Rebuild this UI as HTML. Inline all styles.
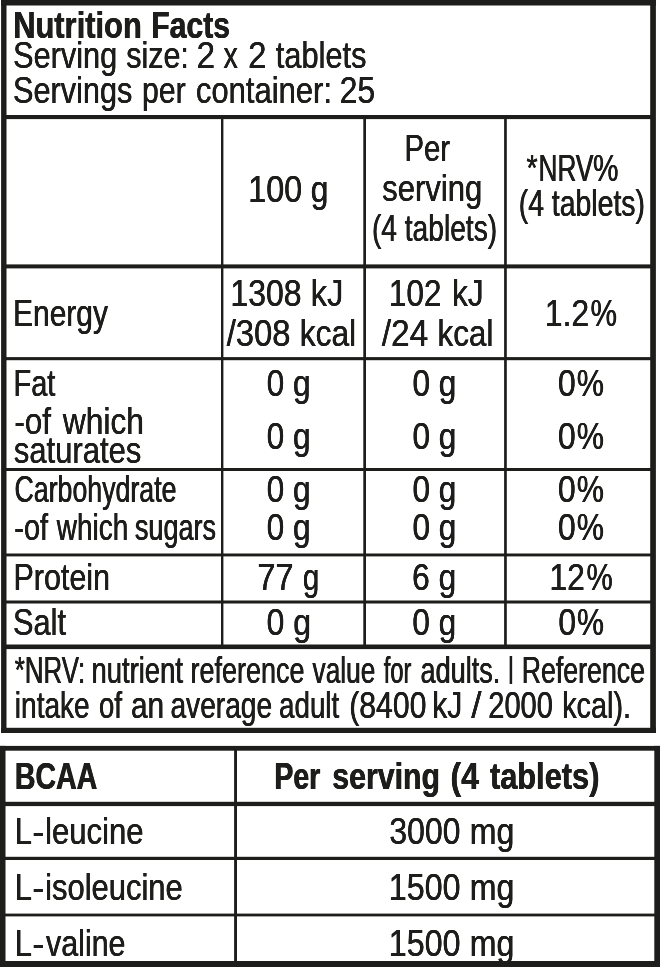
<!DOCTYPE html>
<html lang="en"><head><meta charset="utf-8"><title>Nutrition Facts</title>
<style>
html,body{margin:0;padding:0;background:#fff}
#label{position:relative;width:660px;height:967px;overflow:hidden;background:#fff;font-family:"Liberation Sans",sans-serif;font-size:37px;line-height:37px;color:#1d1d1b}
#label svg{position:absolute;left:0;top:0;display:block}
#label span{position:absolute;left:0;top:0;white-space:pre;transform-origin:0 0;text-shadow:0.3px 0 0 #1d1d1b,-0.3px 0 0 #1d1d1b}
#label span.b{font-weight:700;text-shadow:0.3px 0 0 #1d1d1b,-0.3px 0 0 #1d1d1b}
</style></head><body>
<div id="label">
<svg width="660" height="967" viewBox="0 0 660 967" fill="#1d1d1b">
<rect x="1.10" y="0.00" width="5.40" height="733.00"/>
<rect x="650.20" y="0.00" width="5.70" height="733.00"/>
<rect x="1.10" y="0.00" width="654.80" height="5.50"/>
<rect x="1.10" y="727.80" width="654.80" height="5.20"/>
<rect x="6.00" y="115.00" width="645.00" height="4.10"/>
<rect x="6.00" y="264.40" width="645.00" height="4.00"/>
<rect x="6.00" y="357.10" width="645.00" height="3.10"/>
<rect x="6.00" y="468.00" width="645.00" height="3.00"/>
<rect x="6.00" y="553.50" width="645.00" height="2.90"/>
<rect x="6.00" y="600.50" width="645.00" height="3.00"/>
<rect x="6.00" y="644.50" width="645.00" height="4.60"/>
<rect x="221.00" y="118.00" width="2.40" height="528.00"/>
<rect x="363.30" y="118.00" width="2.70" height="528.00"/>
<rect x="504.10" y="118.00" width="2.70" height="528.00"/>
<rect x="0.00" y="745.90" width="5.50" height="221.10"/>
<rect x="654.30" y="745.90" width="5.70" height="221.10"/>
<rect x="0.00" y="745.90" width="660.00" height="4.80"/>
<rect x="0.00" y="961.00" width="660.00" height="6.00"/>
<rect x="5.00" y="801.80" width="650.00" height="4.30"/>
<rect x="5.00" y="856.80" width="650.00" height="3.20"/>
<rect x="5.00" y="913.60" width="650.00" height="2.80"/>
<rect x="234.10" y="750.00" width="2.90" height="212.00"/>
</svg>
<span class="b" style="transform:matrix(0.8352,0,0,1,13.14,7.00);text-shadow:0.30px 0 0 #1d1d1b,-0.30px 0 0 #1d1d1b">Nutrition</span>
<span class="b" style="transform:matrix(0.8147,0,0,1,151.22,7.00);text-shadow:0.34px 0 0 #1d1d1b,-0.34px 0 0 #1d1d1b">Facts</span>
<span style="transform:matrix(0.8297,0,0,1,13.12,37.00);text-shadow:0.24px 0 0 #1d1d1b,-0.24px 0 0 #1d1d1b">Serving</span>
<span style="transform:matrix(0.8230,0,0,1,126.21,37.00);text-shadow:0.25px 0 0 #1d1d1b,-0.25px 0 0 #1d1d1b">size:</span>
<span style="transform:matrix(0.8977,0,0,1,196.59,37.00);text-shadow:0.15px 0 0 #1d1d1b,-0.15px 0 0 #1d1d1b">2</span>
<span style="transform:matrix(0.7723,0,0,1,223.55,37.00);text-shadow:0.32px 0 0 #1d1d1b,-0.32px 0 0 #1d1d1b">x</span>
<span style="transform:matrix(0.8888,0,0,1,248.13,37.00);text-shadow:0.17px 0 0 #1d1d1b,-0.17px 0 0 #1d1d1b">2</span>
<span style="transform:matrix(0.8316,0,0,1,275.81,37.00);text-shadow:0.24px 0 0 #1d1d1b,-0.24px 0 0 #1d1d1b">tablets</span>
<span style="transform:matrix(0.8285,0,0,1,13.07,72.00);text-shadow:0.25px 0 0 #1d1d1b,-0.25px 0 0 #1d1d1b">Servings</span>
<span style="transform:matrix(0.8154,0,0,1,142.08,72.00);text-shadow:0.26px 0 0 #1d1d1b,-0.26px 0 0 #1d1d1b">per</span>
<span style="transform:matrix(0.8376,0,0,1,195.89,72.00);text-shadow:0.23px 0 0 #1d1d1b,-0.23px 0 0 #1d1d1b">container:</span>
<span style="transform:matrix(0.8635,0,0,1,339.68,72.00);text-shadow:0.20px 0 0 #1d1d1b,-0.20px 0 0 #1d1d1b">25</span>
<span style="transform:matrix(0.8730,0,0,1,248.27,171.00);text-shadow:0.19px 0 0 #1d1d1b,-0.19px 0 0 #1d1d1b">100</span>
<span style="transform:matrix(0.8561,0,0,1,310.77,171.00);text-shadow:0.21px 0 0 #1d1d1b,-0.21px 0 0 #1d1d1b">g</span>
<span style="transform:matrix(0.7922,0,0,1,404.42,130.00);text-shadow:0.29px 0 0 #1d1d1b,-0.29px 0 0 #1d1d1b">Per</span>
<span style="transform:matrix(0.8393,0,0,1,382.18,170.00);text-shadow:0.23px 0 0 #1d1d1b,-0.23px 0 0 #1d1d1b">serving</span>
<span style="transform:matrix(0.7611,0,0,1,371.92,210.00);text-shadow:0.33px 0 0 #1d1d1b,-0.33px 0 0 #1d1d1b">(4 tablets)</span>
<span style="transform:matrix(0.7722,0,0,1,526.55,150.00);text-shadow:0.32px 0 0 #1d1d1b,-0.32px 0 0 #1d1d1b">*</span><span style="transform:matrix(0.7082,0,0,1,538.52,150.00);text-shadow:0.40px 0 0 #1d1d1b,-0.40px 0 0 #1d1d1b">NRV</span><span style="transform:matrix(0.7731,0,0,1,593.09,150.00);text-shadow:0.32px 0 0 #1d1d1b,-0.32px 0 0 #1d1d1b">%</span>
<span style="transform:matrix(0.7675,0,0,1,518.70,185.00);text-shadow:0.33px 0 0 #1d1d1b,-0.33px 0 0 #1d1d1b">(4 tablets)</span>
<span style="transform:matrix(0.8087,0,0,1,13.12,295.00);text-shadow:0.27px 0 0 #1d1d1b,-0.27px 0 0 #1d1d1b">Energy</span>
<span style="transform:matrix(0.8628,0,0,1,230.45,275.00);text-shadow:0.20px 0 0 #1d1d1b,-0.20px 0 0 #1d1d1b">1308</span>
<span style="transform:matrix(0.8831,0,0,1,310.70,275.00);text-shadow:0.17px 0 0 #1d1d1b,-0.17px 0 0 #1d1d1b">kJ</span>
<span style="transform:matrix(0.8852,0,0,1,226.74,315.00);text-shadow:0.17px 0 0 #1d1d1b,-0.17px 0 0 #1d1d1b">/308</span>
<span style="transform:matrix(0.8577,0,0,1,299.74,315.00);text-shadow:0.21px 0 0 #1d1d1b,-0.21px 0 0 #1d1d1b">kcal</span>
<span style="transform:matrix(0.8529,0,0,1,388.84,275.00);text-shadow:0.21px 0 0 #1d1d1b,-0.21px 0 0 #1d1d1b">102</span>
<span style="transform:matrix(0.8527,0,0,1,452.08,275.00);text-shadow:0.21px 0 0 #1d1d1b,-0.21px 0 0 #1d1d1b">kJ</span>
<span style="transform:matrix(0.9015,0,0,1,381.81,315.00);text-shadow:0.15px 0 0 #1d1d1b,-0.15px 0 0 #1d1d1b">/24</span>
<span style="transform:matrix(0.8494,0,0,1,437.49,315.00);text-shadow:0.22px 0 0 #1d1d1b,-0.22px 0 0 #1d1d1b">kcal</span>
<span style="transform:matrix(0.8621,0,0,1,544.81,295.00);text-shadow:0.20px 0 0 #1d1d1b,-0.20px 0 0 #1d1d1b">1.2</span><span style="transform:matrix(0.8064,0,0,1,590.50,295.00);text-shadow:0.27px 0 0 #1d1d1b,-0.27px 0 0 #1d1d1b">%</span>
<span style="transform:matrix(0.7831,0,0,1,13.44,365.00);text-shadow:0.31px 0 0 #1d1d1b,-0.31px 0 0 #1d1d1b">Fat</span>
<span style="transform:matrix(0.8467,0,0,1,14.38,403.00);text-shadow:0.22px 0 0 #1d1d1b,-0.22px 0 0 #1d1d1b">-of</span>
<span style="transform:matrix(0.8577,0,0,1,62.81,403.00);text-shadow:0.21px 0 0 #1d1d1b,-0.21px 0 0 #1d1d1b">which</span>
<span style="transform:matrix(0.8378,0,0,1,13.82,432.00);text-shadow:0.23px 0 0 #1d1d1b,-0.23px 0 0 #1d1d1b">saturates</span>
<span style="transform:matrix(0.8543,0,0,1,266.67,365.00);text-shadow:0.21px 0 0 #1d1d1b,-0.21px 0 0 #1d1d1b">0 g</span>
<span style="transform:matrix(0.8543,0,0,1,266.67,418.00);text-shadow:0.21px 0 0 #1d1d1b,-0.21px 0 0 #1d1d1b">0 g</span>
<span style="transform:matrix(0.8522,0,0,1,412.46,365.00);text-shadow:0.21px 0 0 #1d1d1b,-0.21px 0 0 #1d1d1b">0 g</span>
<span style="transform:matrix(0.8522,0,0,1,412.46,418.00);text-shadow:0.21px 0 0 #1d1d1b,-0.21px 0 0 #1d1d1b">0 g</span>
<span style="transform:matrix(0.8642,0,0,1,557.95,365.00);text-shadow:0.20px 0 0 #1d1d1b,-0.20px 0 0 #1d1d1b">0</span><span style="transform:matrix(0.8281,0,0,1,576.76,365.00);text-shadow:0.25px 0 0 #1d1d1b,-0.25px 0 0 #1d1d1b">%</span>
<span style="transform:matrix(0.8642,0,0,1,557.95,418.00);text-shadow:0.20px 0 0 #1d1d1b,-0.20px 0 0 #1d1d1b">0</span><span style="transform:matrix(0.8281,0,0,1,576.76,418.00);text-shadow:0.25px 0 0 #1d1d1b,-0.25px 0 0 #1d1d1b">%</span>
<span style="transform:matrix(0.7226,0,0,1,14.47,471.00);text-shadow:0.39px 0 0 #1d1d1b,-0.39px 0 0 #1d1d1b">Carbohydrate</span>
<span style="transform:matrix(0.7810,0,0,1,14.28,509.00);text-shadow:0.31px 0 0 #1d1d1b,-0.31px 0 0 #1d1d1b">-of</span>
<span style="transform:matrix(0.7547,0,0,1,56.79,509.00);text-shadow:0.34px 0 0 #1d1d1b,-0.34px 0 0 #1d1d1b">which</span>
<span style="transform:matrix(0.7302,0,0,1,134.89,509.00);text-shadow:0.38px 0 0 #1d1d1b,-0.38px 0 0 #1d1d1b">sugars</span>
<span style="transform:matrix(0.8543,0,0,1,266.67,471.00);text-shadow:0.21px 0 0 #1d1d1b,-0.21px 0 0 #1d1d1b">0 g</span>
<span style="transform:matrix(0.8543,0,0,1,266.67,509.00);text-shadow:0.21px 0 0 #1d1d1b,-0.21px 0 0 #1d1d1b">0 g</span>
<span style="transform:matrix(0.8522,0,0,1,412.46,471.00);text-shadow:0.21px 0 0 #1d1d1b,-0.21px 0 0 #1d1d1b">0 g</span>
<span style="transform:matrix(0.8522,0,0,1,412.46,509.00);text-shadow:0.21px 0 0 #1d1d1b,-0.21px 0 0 #1d1d1b">0 g</span>
<span style="transform:matrix(0.8642,0,0,1,557.95,471.00);text-shadow:0.20px 0 0 #1d1d1b,-0.20px 0 0 #1d1d1b">0</span><span style="transform:matrix(0.8281,0,0,1,576.76,471.00);text-shadow:0.25px 0 0 #1d1d1b,-0.25px 0 0 #1d1d1b">%</span>
<span style="transform:matrix(0.8642,0,0,1,557.95,509.00);text-shadow:0.20px 0 0 #1d1d1b,-0.20px 0 0 #1d1d1b">0</span><span style="transform:matrix(0.8281,0,0,1,576.76,509.00);text-shadow:0.25px 0 0 #1d1d1b,-0.25px 0 0 #1d1d1b">%</span>
<span style="transform:matrix(0.8243,0,0,1,13.45,559.00);text-shadow:0.25px 0 0 #1d1d1b,-0.25px 0 0 #1d1d1b">Protein</span>
<span style="transform:matrix(0.8836,0,0,1,257.28,559.00);text-shadow:0.17px 0 0 #1d1d1b,-0.17px 0 0 #1d1d1b">77</span>
<span style="transform:matrix(0.7991,0,0,1,302.86,559.00);text-shadow:0.28px 0 0 #1d1d1b,-0.28px 0 0 #1d1d1b">g</span>
<span style="transform:matrix(0.8596,0,0,1,412.07,559.00);text-shadow:0.20px 0 0 #1d1d1b,-0.20px 0 0 #1d1d1b">6 g</span>
<span style="transform:matrix(0.8583,0,0,1,549.50,559.00);text-shadow:0.21px 0 0 #1d1d1b,-0.21px 0 0 #1d1d1b">12</span><span style="transform:matrix(0.7974,0,0,1,586.52,559.00);text-shadow:0.29px 0 0 #1d1d1b,-0.29px 0 0 #1d1d1b">%</span>
<span style="transform:matrix(0.8304,0,0,1,13.04,604.00);text-shadow:0.24px 0 0 #1d1d1b,-0.24px 0 0 #1d1d1b">Salt</span>
<span style="transform:matrix(0.8646,0,0,1,266.59,604.00);text-shadow:0.20px 0 0 #1d1d1b,-0.20px 0 0 #1d1d1b">0 g</span>
<span style="transform:matrix(0.8518,0,0,1,412.36,604.00);text-shadow:0.22px 0 0 #1d1d1b,-0.22px 0 0 #1d1d1b">0 g</span>
<span style="transform:matrix(0.8603,0,0,1,558.30,604.00);text-shadow:0.20px 0 0 #1d1d1b,-0.20px 0 0 #1d1d1b">0</span><span style="transform:matrix(0.8203,0,0,1,576.94,604.00);text-shadow:0.26px 0 0 #1d1d1b,-0.26px 0 0 #1d1d1b">%</span>
<span style="transform:matrix(0.6990,0,0,1,14.79,652.00);text-shadow:0.42px 0 0 #1d1d1b,-0.42px 0 0 #1d1d1b">*NRV:</span>
<span style="transform:matrix(0.7413,0,0,1,91.50,652.00);text-shadow:0.36px 0 0 #1d1d1b,-0.36px 0 0 #1d1d1b">nutrient</span>
<span style="transform:matrix(0.7289,0,0,1,190.59,652.00);text-shadow:0.38px 0 0 #1d1d1b,-0.38px 0 0 #1d1d1b">reference</span>
<span style="transform:matrix(0.7087,0,0,1,312.58,652.00);text-shadow:0.40px 0 0 #1d1d1b,-0.40px 0 0 #1d1d1b">value</span>
<span style="transform:matrix(0.6382,0,0,1,383.79,652.00);text-shadow:0.50px 0 0 #1d1d1b,-0.50px 0 0 #1d1d1b">for</span>
<span style="transform:matrix(0.7304,0,0,1,420.57,652.00);text-shadow:0.38px 0 0 #1d1d1b,-0.38px 0 0 #1d1d1b">adults.</span>
<span style="transform:matrix(0.5820,0,0,0.779,508.10,654.05);text-shadow:0.57px 0 0 #1d1d1b,-0.57px 0 0 #1d1d1b">|</span>
<span style="transform:matrix(0.7221,0,0,1,521.70,652.00);text-shadow:0.39px 0 0 #1d1d1b,-0.39px 0 0 #1d1d1b">Reference</span>
<span style="transform:matrix(0.7587,0,0,1,14.82,687.00);text-shadow:0.34px 0 0 #1d1d1b,-0.34px 0 0 #1d1d1b">intake</span>
<span style="transform:matrix(0.7428,0,0,1,99.08,687.00);text-shadow:0.36px 0 0 #1d1d1b,-0.36px 0 0 #1d1d1b">of</span>
<span style="transform:matrix(0.8071,0,0,1,130.91,687.00);text-shadow:0.27px 0 0 #1d1d1b,-0.27px 0 0 #1d1d1b">an</span>
<span style="transform:matrix(0.7607,0,0,1,170.46,687.00);text-shadow:0.34px 0 0 #1d1d1b,-0.34px 0 0 #1d1d1b">average</span>
<span style="transform:matrix(0.7510,0,0,1,279.00,687.00);text-shadow:0.35px 0 0 #1d1d1b,-0.35px 0 0 #1d1d1b">adult</span>
<span style="transform:matrix(0.8155,0,0,1,349.25,687.00);text-shadow:0.26px 0 0 #1d1d1b,-0.26px 0 0 #1d1d1b">(8400</span>
<span style="transform:matrix(0.8120,0,0,1,432.20,687.00);text-shadow:0.27px 0 0 #1d1d1b,-0.27px 0 0 #1d1d1b">kJ</span>
<span style="transform:matrix(1.0000,0,0,1,471.20,687.00);text-shadow:0.02px 0 0 #1d1d1b,-0.02px 0 0 #1d1d1b">/</span>
<span style="transform:matrix(0.7842,0,0,1,488.31,687.00);text-shadow:0.30px 0 0 #1d1d1b,-0.30px 0 0 #1d1d1b">2000</span>
<span style="transform:matrix(0.7790,0,0,1,562.14,687.00);text-shadow:0.31px 0 0 #1d1d1b,-0.31px 0 0 #1d1d1b">kcal).</span>
<span class="b" style="transform:matrix(0.7698,0,0,1,14.92,758.00);text-shadow:0.43px 0 0 #1d1d1b,-0.43px 0 0 #1d1d1b">BCAA</span>
<span class="b" style="transform:matrix(0.7698,0,0,1,274.33,758.00);text-shadow:0.43px 0 0 #1d1d1b,-0.43px 0 0 #1d1d1b">Per</span>
<span class="b" style="transform:matrix(0.8191,0,0,1,332.27,758.00);text-shadow:0.33px 0 0 #1d1d1b,-0.33px 0 0 #1d1d1b">serving</span>
<span class="b" style="transform:matrix(0.8727,0,0,1,450.40,758.00);text-shadow:0.23px 0 0 #1d1d1b,-0.23px 0 0 #1d1d1b">(4</span>
<span class="b" style="transform:matrix(0.8331,0,0,1,489.88,758.00);text-shadow:0.30px 0 0 #1d1d1b,-0.30px 0 0 #1d1d1b">tablets)</span>
<span style="transform:matrix(0.8332,0,0,1,14.80,813.00);text-shadow:0.24px 0 0 #1d1d1b,-0.24px 0 0 #1d1d1b">L</span><span style="transform:matrix(0.9915,0,0,1,32.19,813.00);text-shadow:0.03px 0 0 #1d1d1b,-0.03px 0 0 #1d1d1b">-</span><span style="transform:matrix(0.8396,0,0,1,45.11,813.00);text-shadow:0.23px 0 0 #1d1d1b,-0.23px 0 0 #1d1d1b">leucine</span>
<span style="transform:matrix(0.8644,0,0,1,389.32,813.00);text-shadow:0.20px 0 0 #1d1d1b,-0.20px 0 0 #1d1d1b">3000</span>
<span style="transform:matrix(0.8672,0,0,1,469.74,813.00);text-shadow:0.19px 0 0 #1d1d1b,-0.19px 0 0 #1d1d1b">mg</span>
<span style="transform:matrix(0.8332,0,0,1,14.80,869.00);text-shadow:0.24px 0 0 #1d1d1b,-0.24px 0 0 #1d1d1b">L</span><span style="transform:matrix(0.9915,0,0,1,32.19,869.00);text-shadow:0.03px 0 0 #1d1d1b,-0.03px 0 0 #1d1d1b">-</span><span style="transform:matrix(0.8361,0,0,1,45.15,869.00);text-shadow:0.24px 0 0 #1d1d1b,-0.24px 0 0 #1d1d1b">isoleucine</span>
<span style="transform:matrix(0.8715,0,0,1,388.78,869.00);text-shadow:0.19px 0 0 #1d1d1b,-0.19px 0 0 #1d1d1b">1500</span>
<span style="transform:matrix(0.8672,0,0,1,469.74,869.00);text-shadow:0.19px 0 0 #1d1d1b,-0.19px 0 0 #1d1d1b">mg</span>
<span style="transform:matrix(0.8332,0,0,1,14.80,925.00);text-shadow:0.24px 0 0 #1d1d1b,-0.24px 0 0 #1d1d1b">L</span><span style="transform:matrix(0.9915,0,0,1,32.19,925.00);text-shadow:0.03px 0 0 #1d1d1b,-0.03px 0 0 #1d1d1b">-</span><span style="transform:matrix(0.8226,0,0,1,45.97,925.00);text-shadow:0.25px 0 0 #1d1d1b,-0.25px 0 0 #1d1d1b">valine</span>
<span style="transform:matrix(0.8715,0,0,1,388.78,925.00);text-shadow:0.19px 0 0 #1d1d1b,-0.19px 0 0 #1d1d1b">1500</span>
<span style="transform:matrix(0.8672,0,0,1,469.74,925.00);text-shadow:0.19px 0 0 #1d1d1b,-0.19px 0 0 #1d1d1b">mg</span>
</div>
</body></html>
